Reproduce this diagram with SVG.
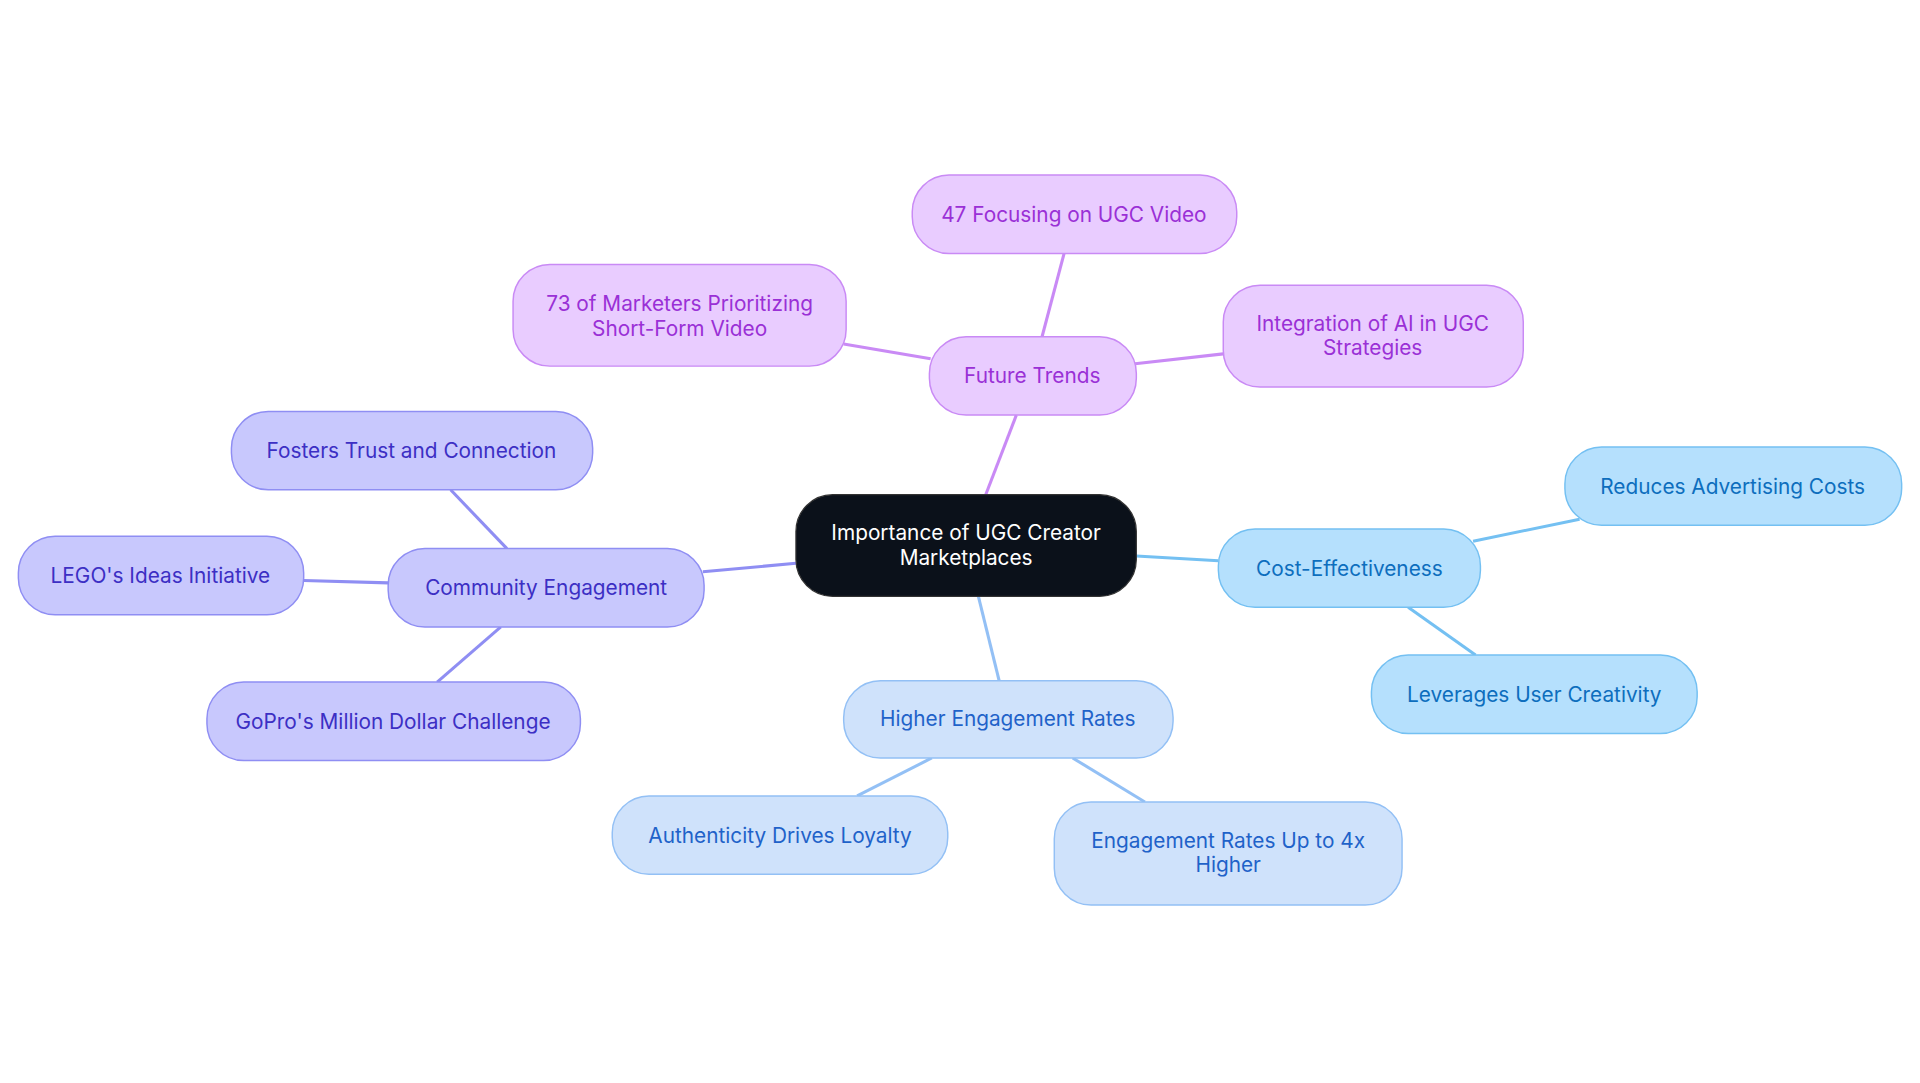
<svg xmlns="http://www.w3.org/2000/svg" width="1920" height="1083" viewBox="0 0 1920 1083">
<style>
text{font-family:Inter,"Noto Sans",sans-serif;font-size:17px;text-anchor:middle;dominant-baseline:central}
.p rect{fill:#e9ccff;stroke:#c98af5;stroke-width:1.2}.p text{fill:#9a30d6}
.i rect{fill:#c8c8fd;stroke:#8f8ef3;stroke-width:1.2}.i text{fill:#3c2fc4}
.b rect{fill:#cfe2fb;stroke:#93c0f5;stroke-width:1.2}.b text{fill:#1f62c9}
.c rect{fill:#b5e0fd;stroke:#74c0f2;stroke-width:1.2}.c text{fill:#0d6ebd}
#edges line{stroke-width:2.5}
</style>
<rect width="1920" height="1083" fill="#fff"/>
<g transform="scale(1.2245)">
<g id="edges">
<line x1="805" y1="404" x2="830" y2="339" stroke="#c98af5"/>
<line x1="851" y1="275" x2="869" y2="207" stroke="#c98af5"/>
<line x1="760" y1="293" x2="689" y2="281" stroke="#c98af5"/>
<line x1="927" y1="297" x2="999" y2="289" stroke="#c98af5"/>
<line x1="650" y1="460" x2="574" y2="467" stroke="#8f8ef3"/>
<line x1="414" y1="448" x2="368" y2="400" stroke="#8f8ef3"/>
<line x1="317" y1="476" x2="248" y2="474" stroke="#8f8ef3"/>
<line x1="409" y1="512" x2="357" y2="557" stroke="#8f8ef3"/>
<line x1="928" y1="454" x2="995" y2="458" stroke="#74c0f2"/>
<line x1="1203" y1="442" x2="1290" y2="424" stroke="#74c0f2"/>
<line x1="1150" y1="496" x2="1205" y2="535" stroke="#74c0f2"/>
<line x1="799" y1="487" x2="816" y2="556" stroke="#93c0f5"/>
<line x1="761" y1="619" x2="700" y2="650" stroke="#93c0f5"/>
<line x1="876" y1="619" x2="935" y2="655" stroke="#93c0f5"/>
</g>
<g id="root"><rect x="650" y="404" width="278" height="83" rx="30" fill="#0b111a" stroke="#333"/><text x="789" y="435" fill="#fff">Importance of UGC Creator</text><text x="789" y="455" fill="#fff">Marketplaces</text></g>
<g id="ft" class="p"><rect x="759" y="275" width="169" height="64" rx="30"/><text x="843" y="307">Future Trends</text></g>
<g id="p47" class="p"><rect x="745" y="143" width="265" height="64" rx="30"/><text x="877" y="175">47 Focusing on UGC Video</text></g>
<g id="p73" class="p"><rect x="419" y="216" width="272" height="83" rx="30"/><text x="555" y="248">73 of Marketers Prioritizing</text><text x="555" y="268">Short-Form Video</text></g>
<g id="pai" class="p"><rect x="999" y="233" width="245" height="83" rx="30"/><text x="1121" y="264">Integration of AI in UGC</text><text x="1121" y="284">Strategies</text></g>
<g id="ce" class="i"><rect x="317" y="448" width="258" height="64" rx="30"/><text x="446" y="480">Community Engagement</text></g>
<g id="fos" class="i"><rect x="189" y="336" width="295" height="64" rx="30"/><text x="336" y="368">Fosters Trust and Connection</text></g>
<g id="lego" class="i"><rect x="15" y="438" width="233" height="64" rx="30"/><text x="131" y="470">LEGO's Ideas Initiative</text></g>
<g id="gopro" class="i"><rect x="169" y="557" width="305" height="64" rx="30"/><text x="321" y="589">GoPro's Million Dollar Challenge</text></g>
<g id="cost" class="c"><rect x="995" y="432" width="214" height="64" rx="30"/><text x="1102" y="464">Cost-Effectiveness</text></g>
<g id="red" class="c"><rect x="1278" y="365" width="275" height="64" rx="30"/><text x="1415" y="397">Reduces Advertising Costs</text></g>
<g id="lev" class="c"><rect x="1120" y="535" width="266" height="64" rx="30"/><text x="1253" y="567">Leverages User Creativity</text></g>
<g id="her" class="b"><rect x="689" y="556" width="269" height="63" rx="30"/><text x="823" y="587">Higher Engagement Rates</text></g>
<g id="auth" class="b"><rect x="500" y="650" width="274" height="64" rx="30"/><text x="637" y="682">Authenticity Drives Loyalty</text></g>
<g id="er" class="b"><rect x="861" y="655" width="284" height="84" rx="30"/><text x="1003" y="686">Engagement Rates Up to 4x</text><text x="1003" y="706">Higher</text></g>
</g>
</svg>
